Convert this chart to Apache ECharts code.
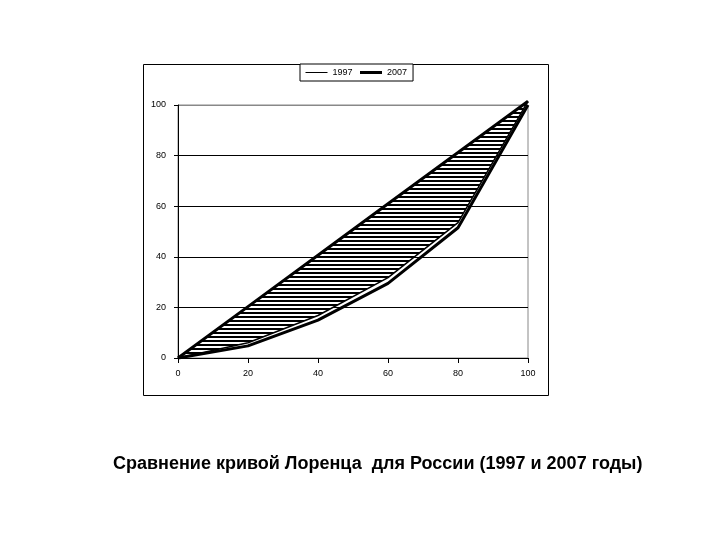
<!DOCTYPE html>
<html>
<head>
<meta charset="utf-8">
<script src="https://cdn.jsdelivr.net/npm/echarts@6/dist/echarts.min.js"></script>
<style>html,body{margin:0;padding:0;background:#fff;}#c{width:720px;height:540px;}</style>
</head>
<body>
<div id="c"></div>
<script>
var xShares = [0, 20, 40, 60, 80, 100];
var equality = [0, 20.3, 40.6, 61, 81.2, 101.5];
var lorenz1997 = [0, 6, 16.8, 31.8, 53.5, 101.5];
var lorenz2007 = [0, 4.8, 15, 29.5, 51.5, 100];
var tickLabels = ['0', '20', '40', '60', '80', '100'];
var titleText = 'Сравнение кривой Лоренца  для России (1997 и 2007 годы)';

var pat = document.createElement('canvas');
pat.width = 8; pat.height = 4;
var pc = pat.getContext('2d');
pc.fillStyle = '#fff'; pc.fillRect(0, 0, 8, 4);
pc.fillStyle = '#000'; pc.fillRect(0, 0, 8, 2);

function pairs(ys) { return xShares.map(function (x, i) { return [x, ys[i]]; }); }

var chart = echarts.init(document.getElementById('c'), null, {renderer: 'canvas'});
var font = 'Liberation Sans, Arial, sans-serif';
chart.setOption({
  animation: false,
  backgroundColor: '#fff',
  graphic: [
    {type: 'rect', z: -10, shape: {x: 143.5, y: 64.5, width: 405, height: 331}, style: {fill: '#fff', stroke: '#000', lineWidth: 1}}
  ],
  title: {
    text: titleText, left: 108, top: 450,
    textStyle: {fontFamily: font, fontSize: 18, fontWeight: 'bold', color: '#000'}
  },
  legend: {
    data: [
      {name: '1997', lineStyle: {width: 1}, itemStyle: {opacity: 0, color: 'rgba(0,0,0,0)', borderWidth: 0}},
      {name: '2007', lineStyle: {width: 3}, itemStyle: {opacity: 0, color: 'rgba(0,0,0,0)', borderWidth: 0}}
    ],
    left: 300, top: 64,
    padding: [4, 6, 4, 5], itemGap: 6, itemWidth: 22, itemHeight: 8,
    backgroundColor: '#fff', borderColor: '#000', borderWidth: 1, borderRadius: 0,
    textStyle: {fontFamily: font, fontSize: 9, color: '#000'}
  },
  grid: {left: 178, right: 192, top: 105, bottom: 182, show: true, borderColor: '#888', borderWidth: 1},
  xAxis: {
    type: 'value', min: 0, max: 100, interval: 20,
    axisLine: {show: true, lineStyle: {color: '#000', width: 1}},
    axisTick: {show: true, length: 5, lineStyle: {color: '#000'}},
    axisLabel: {margin: 11, fontFamily: font, fontSize: 9, color: '#000',
      formatter: function (v) { return tickLabels[xShares.indexOf(v)]; }},
    splitLine: {show: false}
  },
  yAxis: {
    type: 'value', min: 0, max: 100, interval: 20,
    axisLine: {show: true, lineStyle: {color: '#000', width: 1}},
    axisTick: {show: true, length: 4, lineStyle: {color: '#000'}},
    axisLabel: {margin: 12, fontFamily: font, fontSize: 9, color: '#000',
      formatter: function (v) { return tickLabels[xShares.indexOf(v)]; }},
    splitLine: {show: true, lineStyle: {color: ['#000', '#000', '#000', '#000', '#000', '#888'], width: 1}}
  },
  series: [
    {name: 'hatch', type: 'custom', coordinateSystem: 'cartesian2d', silent: true, z: 1,
      data: [[0, 0]], encode: {x: 0, y: 1},
      renderItem: function (params, api) {
        var pts = [];
        for (var i = 0; i < xShares.length; i++) pts.push(api.coord([xShares[i], equality[i]]));
        for (var j = xShares.length - 1; j >= 0; j--) pts.push(api.coord([xShares[j], lorenz1997[j]]));
        return {type: 'polygon', shape: {points: pts}, style: {fill: {image: pat, repeat: 'repeat'}, stroke: null}};
      }
    },
    {name: 'equality', type: 'line', data: pairs(equality), symbol: 'none', clip: false,
      lineStyle: {color: '#000', width: 3}, z: 2},
    {name: '1997', type: 'line', data: pairs(lorenz1997), symbol: 'none', clip: false,
      lineStyle: {color: '#000', width: 1.5}, itemStyle: {color: '#000'}, z: 3},
    {name: '2007', type: 'line', data: pairs(lorenz2007), symbol: 'none', clip: false,
      lineStyle: {color: '#000', width: 3}, itemStyle: {color: '#000'}, z: 4}
  ]
});
</script>
</body>
</html>
